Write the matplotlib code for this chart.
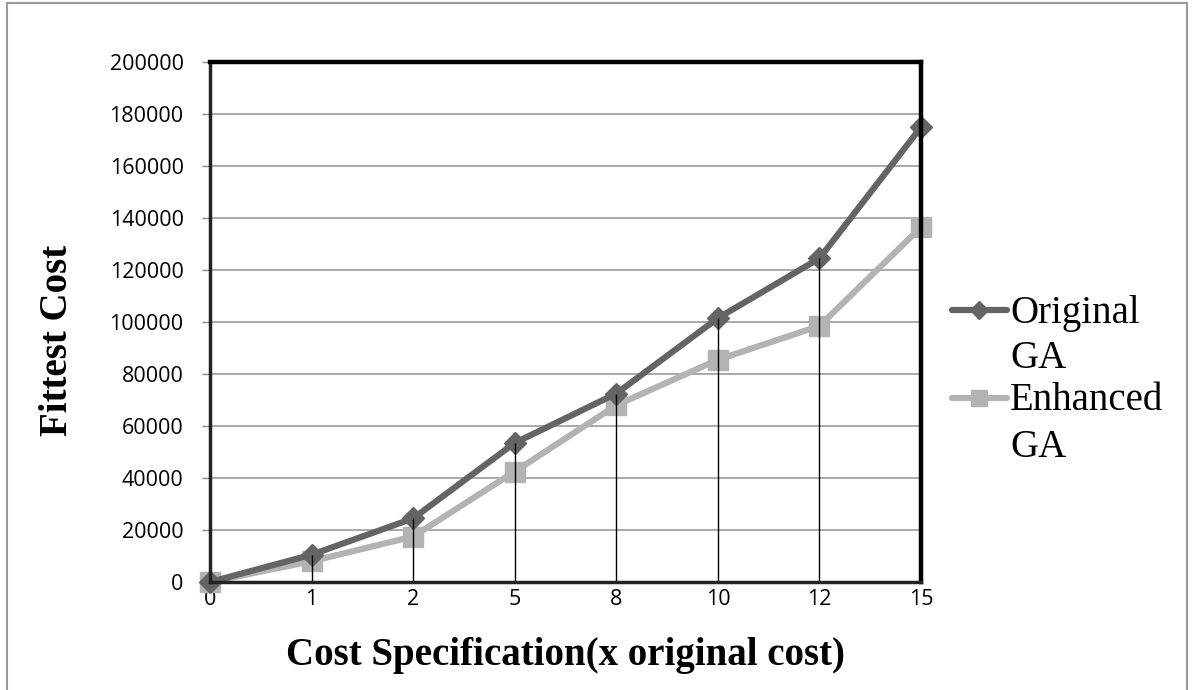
import numpy as np
import matplotlib
matplotlib.use("Agg")
import matplotlib.pyplot as plt
from matplotlib.lines import Line2D

# Werte der beiden GA-Varianten
categories = ["0", "1", "2", "5", "8", "10", "12", "15"]
original_ga = [0, 10500, 24500, 53500, 72500, 101500, 124500, 175000]
enhanced_ga = [0, 8000, 17500, 42500, 68000, 85500, 98500, 136500]
y_ticks = [0, 20000, 40000, 60000, 80000, 100000, 120000, 140000, 160000, 180000, 200000]

c_orig = "#646464"
c_enh = "#b3b3b3"

W, H = 1192, 690
def fx(px):
    return px / W
def fy(py):
    return 1 - py / H

fig = plt.figure(figsize=(11.92, 6.9), dpi=100)
ax = fig.add_axes([0.1762, 0.1565, 0.5965, 0.7536])

x = np.arange(len(categories))

# Gitterlinien
for t in y_ticks[1:-1]:
    ax.axhline(t, color="#999999", lw=1.2, zorder=1)

ax.plot(x, original_ga, color=c_orig, lw=4.5, marker="D", ms=11,
        clip_on=False, zorder=3)
ax.plot(x, enhanced_ga, color=c_enh, lw=4.5, marker="s", ms=14,
        clip_on=False, zorder=2)

# Lotlinien bis zur x-Achse
tops = np.maximum(original_ga, enhanced_ga)
ax.vlines(x, 0, tops, color="black", lw=1, zorder=4)

ax.set_xlim(0, len(categories) - 1)
ax.set_ylim(0, 200000)
ax.set_xticks(x)
ax.set_xticklabels(categories)
ax.set_yticks(y_ticks)
ax.set_yticklabels([str(t) for t in y_ticks])
ax.tick_params(axis="x", length=0, pad=5, labelsize=15.5)
ax.tick_params(axis="y", length=6, width=1, color="#888888", pad=13, labelsize=15.5)
for lab in ax.get_xticklabels() + ax.get_yticklabels():
    lab.set_fontfamily("Open Sans")

ax.spines["top"].set_linewidth(3.2)
ax.spines["right"].set_linewidth(3.2)
ax.spines["left"].set_linewidth(2.5)
ax.spines["bottom"].set_linewidth(2.5)
ax.spines["left"].set_color("#222222")
ax.spines["bottom"].set_color("#222222")
for s in ax.spines.values():
    s.set_zorder(5)

ax.set_ylabel("Fittest Cost", fontfamily="Liberation Serif", fontweight="bold",
              fontsize=28)
ax.set_xlabel("Cost Specification(x original cost)", fontfamily="Liberation Serif",
              fontweight="bold", fontsize=28)
# Achsentitel-Positionen in Achsenkoordinaten
ax.yaxis.set_label_coords((57 - 210) / 711, (582 - 340) / 520)
ax.xaxis.set_label_coords((565 - 210) / 711, -(655 - 582) / 520)
ax.xaxis.label.set_va("center")
ax.yaxis.label.set_va("center")

# Legende von Hand
legend_items = [
    (("Original", "GA"), c_orig, "D", 9, 310, (323, 368)),
    (("Enhanced", "GA"), c_enh, "s", 12, 398, (410, 457)),
]
for lines, col, mk, ms, py, baselines in legend_items:
    fig.add_artist(Line2D([fx(952), fx(1007)], [fy(py), fy(py)], color=col, lw=4.5,
                          solid_capstyle="round"))
    fig.add_artist(Line2D([fx(979)], [fy(py)], color=col, marker=mk, ms=ms, lw=0))
    for txt, b in zip(lines, baselines):
        fig.text(fx(1010), fy(b), txt, fontfamily="Liberation Serif", fontsize=28,
                 va="baseline", ha="left")

# äußerer Rahmen
for xs, ys in [([7, 7], [3, 700]), ([7, 1187], [3, 3]), ([1187, 1187], [3, 700])]:
    fig.add_artist(Line2D([fx(v) for v in xs], [fy(v) for v in ys],
                          color="#9a9a9a", lw=1.5))

fig.savefig("out.png", dpi=100)
